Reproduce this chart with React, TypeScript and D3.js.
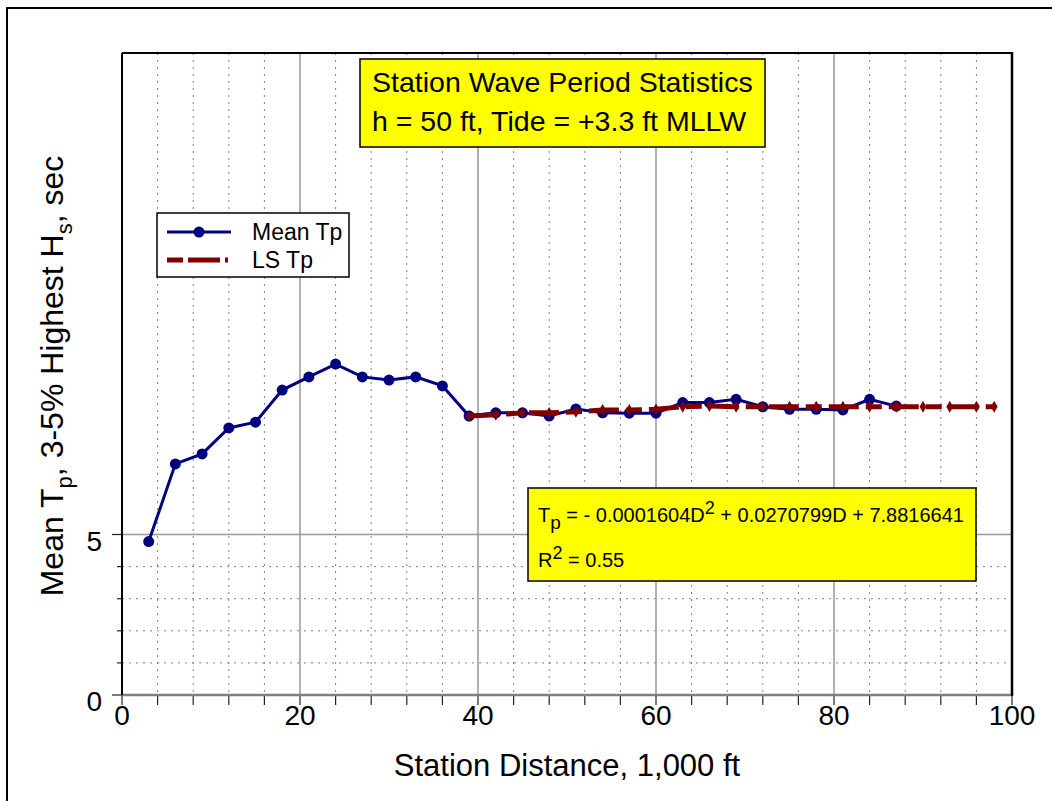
import React, { useRef, useEffect } from 'react';
import * as d3 from 'd3';

// Mean Tp per station (1,000 ft)
const stations = [3, 6, 9, 12, 15, 18, 21, 24, 27, 30, 33, 36, 39, 42, 45, 48, 51, 54, 57, 60, 63, 66, 69, 72, 75, 78, 81, 84, 87];
const meanTp = [4.78, 7.2, 7.51, 8.32, 8.5, 9.5, 9.91, 10.31, 9.91, 9.81, 9.91, 9.63, 8.69, 8.79, 8.79, 8.69, 8.91, 8.79, 8.78, 8.78, 9.11, 9.11, 9.21, 8.98, 8.9, 8.9, 8.88, 9.21, 9.0];

// least-squares curve as plotted
const lsStations = [39, 42, 45, 48, 51, 54, 57, 60, 63, 66, 69, 72, 75, 78, 81, 84, 87, 90, 93, 96, 98];
const lsTp = [8.69, 8.73, 8.79, 8.79, 8.82, 8.88, 8.88, 8.9, 8.98, 9.0, 8.98, 8.98, 8.98, 8.98, 8.98, 8.98, 8.98, 8.98, 8.98, 8.98, 8.98];

const xMajor = [0, 20, 40, 60, 80, 100];
const xMinor = [4, 8, 12, 16, 24, 28, 32, 36, 44, 48, 52, 56, 64, 68, 72, 76, 84, 88, 92, 96];
const yMajor = [0, 5];
const yMinor = [1, 2, 3, 4];

const FONT = '"Liberation Sans", Arial, Helvetica, sans-serif';
const NAVY = '#000080';
const MAROON = '#800000';

export default function App() {
  const ref = useRef<SVGSVGElement>(null);

  useEffect(() => {
    const svg = d3.select(ref.current);
    svg.selectAll('*').remove();

    const width = 1052;
    const height = 801;
    const plot = { left: 122, right: 1012, top: 53, bottom: 695 };

    const x = d3.scaleLinear().domain([0, 100]).range([plot.left, plot.right]);
    const y = d3.scaleLinear().domain([0, 20]).range([plot.bottom, plot.top]);

    svg.attr('viewBox', `0 0 ${width} ${height}`).style('font-family', FONT);

    svg.append('rect').attr('width', width).attr('height', height).attr('fill', '#fff');

    // outer frame (only left/top visible)
    svg.append('rect')
      .attr('x', 7).attr('y', 8).attr('width', 1100).attr('height', 900)
      .attr('fill', 'none').attr('stroke', '#000').attr('stroke-width', 2);

    const grid = svg.append('g');

    // dotted minor grid
    grid.selectAll('.vminor').data(xMinor).join('line')
      .attr('x1', d => x(d)).attr('x2', d => x(d))
      .attr('y1', plot.top).attr('y2', plot.bottom)
      .attr('stroke', '#808080').attr('stroke-width', 1).attr('stroke-dasharray', '2,5');
    grid.selectAll('.hminor').data(yMinor).join('line')
      .attr('x1', plot.left).attr('x2', plot.right)
      .attr('y1', d => y(d)).attr('y2', d => y(d))
      .attr('stroke', '#808080').attr('stroke-width', 1).attr('stroke-dasharray', '2,5');

    // solid major grid
    grid.selectAll('.vmajor').data(xMajor.slice(1, -1)).join('line')
      .attr('x1', d => x(d)).attr('x2', d => x(d))
      .attr('y1', plot.top).attr('y2', plot.bottom)
      .attr('stroke', '#999').attr('stroke-width', 1.5);
    grid.append('line')
      .attr('x1', plot.left).attr('x2', plot.right)
      .attr('y1', y(5)).attr('y2', y(5))
      .attr('stroke', '#999').attr('stroke-width', 1.5);

    // ticks
    const ticks = svg.append('g').attr('stroke', '#222').attr('stroke-width', 1.2);
    ticks.selectAll('.xt').data([...xMajor, ...xMinor]).join('line')
      .attr('x1', d => x(d)).attr('x2', d => x(d))
      .attr('y1', plot.bottom).attr('y2', plot.bottom + 10);
    ticks.selectAll('.ytM').data(yMajor).join('line')
      .attr('x1', plot.left - 10).attr('x2', plot.left)
      .attr('y1', d => y(d)).attr('y2', d => y(d));
    ticks.selectAll('.ytm').data(yMinor).join('line')
      .attr('x1', plot.left - 5).attr('x2', plot.left)
      .attr('y1', d => y(d)).attr('y2', d => y(d));

    // plot frame
    svg.append('line').attr('x1', plot.left).attr('x2', plot.right).attr('y1', plot.bottom).attr('y2', plot.bottom)
      .attr('stroke', '#808080').attr('stroke-width', 2.5);
    svg.append('line').attr('x1', plot.left).attr('x2', plot.right).attr('y1', plot.top).attr('y2', plot.top)
      .attr('stroke', '#000').attr('stroke-width', 2);
    svg.append('line').attr('x1', plot.left).attr('x2', plot.left).attr('y1', plot.top).attr('y2', plot.bottom)
      .attr('stroke', '#000').attr('stroke-width', 2);
    svg.append('line').attr('x1', plot.right).attr('x2', plot.right).attr('y1', plot.top - 1).attr('y2', plot.bottom + 1)
      .attr('stroke', '#000').attr('stroke-width', 2.5);

    // tick labels
    svg.selectAll('.xl').data(xMajor).join('text')
      .attr('x', d => x(d)).attr('y', plot.bottom + 30)
      .attr('text-anchor', 'middle').attr('font-size', 28).attr('fill', '#000')
      .text(d => d);
    svg.selectAll('.yl').data(yMajor).join('text')
      .attr('x', plot.left - 20).attr('y', d => y(d) + 16)
      .attr('text-anchor', 'end').attr('font-size', 28).attr('fill', '#000')
      .text(d => d);

    // axis titles
    svg.append('text')
      .attr('x', (plot.left + plot.right) / 2).attr('y', 776)
      .attr('text-anchor', 'middle').attr('font-size', 31)
      .text('Station Distance, 1,000 ft');

    const yt = svg.append('text')
      .attr('transform', `translate(63,${(plot.top + plot.bottom) / 2 + 2}) rotate(-90)`)
      .attr('text-anchor', 'middle').attr('font-size', 32);
    yt.append('tspan').text('Mean T');
    yt.append('tspan').attr('font-size', 22).attr('dy', 9).text('p');
    yt.append('tspan').attr('dy', -9).text(', 3-5% Highest H');
    yt.append('tspan').attr('font-size', 22).attr('dy', 9).text('s');
    yt.append('tspan').attr('dy', -9).text(', sec');

    // Mean Tp series
    const meanData = stations.map((s, i) => [s, meanTp[i]] as [number, number]);
    const line = d3.line<[number, number]>().x(d => x(d[0])).y(d => y(d[1]));
    svg.append('path').datum(meanData)
      .attr('fill', 'none').attr('stroke', NAVY).attr('stroke-width', 3)
      .attr('d', line);
    svg.selectAll('.mpt').data(meanData).join('circle')
      .attr('cx', d => x(d[0])).attr('cy', d => y(d[1])).attr('r', 5.5)
      .attr('fill', NAVY);

    // LS Tp series
    const lsData = lsStations.map((s, i) => [s, lsTp[i]] as [number, number]);
    svg.append('path').datum(lsData)
      .attr('fill', 'none').attr('stroke', MAROON).attr('stroke-width', 5)
      .attr('stroke-dasharray', '30,7,16,7')
      .attr('d', line);
    const diamond = d3.symbol().type(d3.symbolDiamond).size(40);
    svg.selectAll('.lpt').data(lsData).join('path')
      .attr('transform', d => `translate(${x(d[0])},${y(d[1])})`)
      .attr('d', diamond()).attr('fill', MAROON);

    // legend
    const lg = svg.append('g');
    lg.append('rect').attr('x', 157).attr('y', 213).attr('width', 192).attr('height', 64)
      .attr('fill', '#fff').attr('stroke', '#000').attr('stroke-width', 1.5);
    lg.append('line').attr('x1', 167).attr('x2', 231).attr('y1', 232).attr('y2', 232)
      .attr('stroke', NAVY).attr('stroke-width', 3);
    lg.append('circle').attr('cx', 199).attr('cy', 232).attr('r', 5.5).attr('fill', NAVY);
    lg.append('line').attr('x1', 167).attr('x2', 231).attr('y1', 260).attr('y2', 260)
      .attr('stroke', MAROON).attr('stroke-width', 5).attr('stroke-dasharray', '16,5,32,5,3');
    lg.append('text').attr('x', 252).attr('y', 240).attr('font-size', 23).text('Mean Tp');
    lg.append('text').attr('x', 252).attr('y', 268).attr('font-size', 23).text('LS Tp');

    // title box
    const tb = svg.append('g');
    tb.append('rect').attr('x', 360).attr('y', 59).attr('width', 405).attr('height', 88)
      .attr('fill', '#ffff00').attr('stroke', '#000').attr('stroke-width', 1.5);
    tb.append('text').attr('x', 372).attr('y', 92).attr('font-size', 28.5).text('Station Wave Period Statistics');
    tb.append('text').attr('x', 372).attr('y', 131).attr('font-size', 28.5).text('h = 50 ft, Tide = +3.3 ft MLLW');

    // equation box
    const eb = svg.append('g');
    eb.append('rect').attr('x', 528).attr('y', 488).attr('width', 448).attr('height', 93)
      .attr('fill', '#ffff00').attr('stroke', '#000').attr('stroke-width', 1.5);
    const eq = eb.append('text').attr('x', 538).attr('y', 522).attr('font-size', 20);
    eq.append('tspan').text('T');
    eq.append('tspan').attr('font-size', 19).attr('dy', 7).text('p');
    eq.append('tspan').attr('dy', -7).text(' = - 0.0001604D');
    eq.append('tspan').attr('font-size', 18).attr('dy', -8).text('2');
    eq.append('tspan').attr('dy', 8).text(' + 0.0270799D + 7.8816641');
    const r2 = eb.append('text').attr('x', 538).attr('y', 567).attr('font-size', 20);
    r2.append('tspan').text('R');
    r2.append('tspan').attr('font-size', 18).attr('dy', -8).text('2');
    r2.append('tspan').attr('dy', 8).text(' = 0.55');
  }, []);

  return (
    <svg
      ref={ref}
      width={1052}
      height={801}
      style={{ position: 'absolute', left: 0, top: 0, display: 'block' }}
    />
  );
}
